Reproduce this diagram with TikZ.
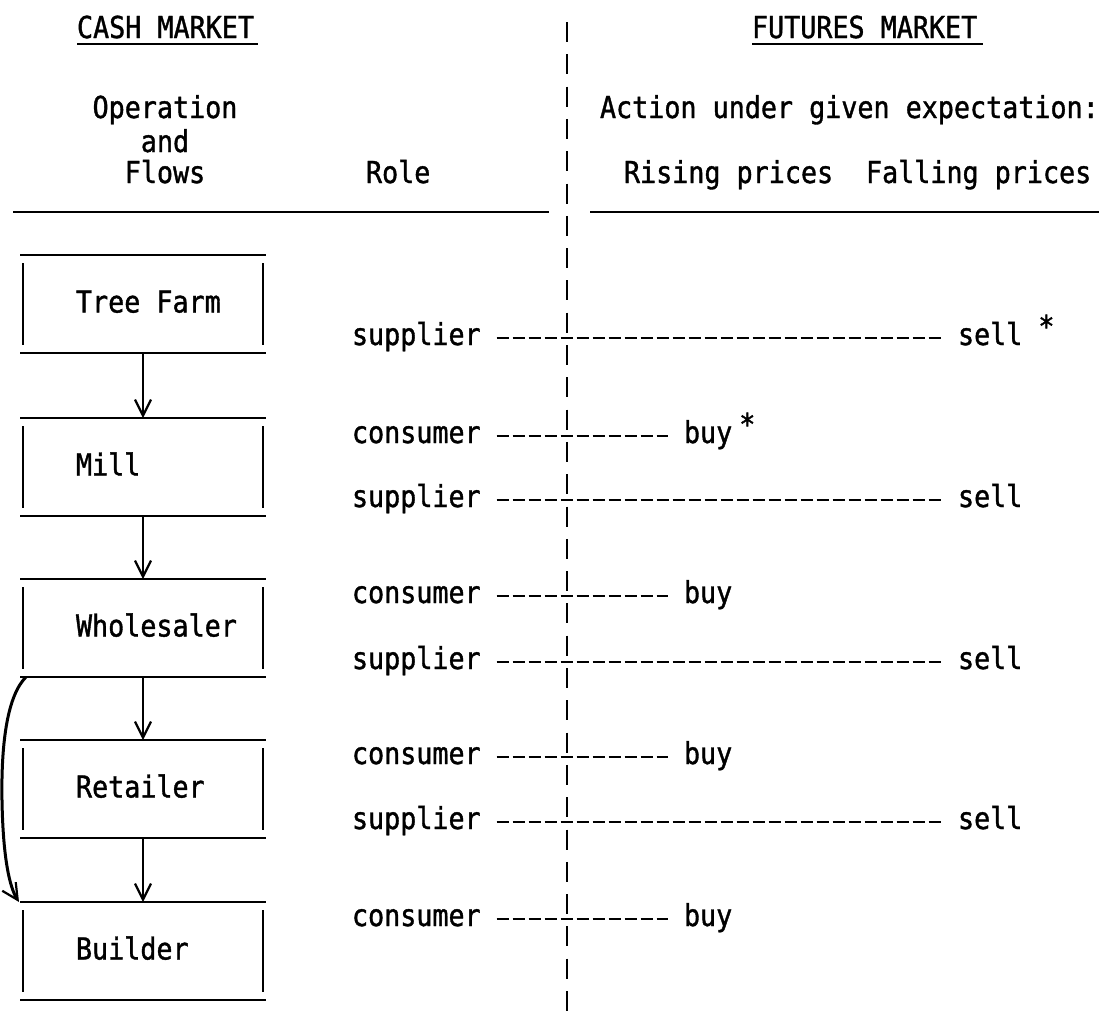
\documentclass[tikz,border=0pt]{standalone}
\usepackage{fontspec}
\newfontfamily\tw[FakeStretch=0.885,FakeBold=1.2]{DejaVu Sans Mono}
\usetikzlibrary{arrows.meta,calc}

\begin{document}
\begin{tikzpicture}[x=0.5pt,y=-0.5pt,
  every node/.style={font=\tw\fontsize{15.1pt}{16pt}\selectfont, inner sep=0pt, outer sep=0pt},
  txt/.style={anchor=base west, text height=11pt, text depth=4pt},
  rule/.style={line width=1pt},
  box/.style={minimum width=123pt, minimum height=49pt},
  flow/.style={line width=1pt, -{Straight Barb[length=8pt,width=8pt,line width=1.1pt]}},
  dashline/.style={line width=1.4pt, dash pattern=on 6pt off 2pt, shorten <=8pt, shorten >=8pt},
  divider/.style={line width=1.4pt, dash pattern=on 10pt off 6.15pt}
]
\useasboundingbox (0,0) rectangle (1099,1029);

% column headings
\node[anchor=base west] (cash) at (77,38) {CASH MARKET};
\draw[rule] (77,44) -- (258,44);
\node[anchor=base west] (fut) at (752,38) {FUTURES MARKET};
\draw[rule] (752,44) -- (983,44);

\node[anchor=base] (op1) at (165,118) {Operation};
\node[anchor=base] (op2) at (165,152) {and};
\node[anchor=base] (op3) at (165,183) {Flows};
\node[anchor=base west] (role) at (366,183) {Role};
\node[anchor=base west] (act) at (600,118) {Action under given expectation:};
\node[anchor=base west] (rise) at (624,183) {Rising prices};
\node[anchor=base west] (fall) at (866,183) {Falling prices};

\draw[rule] (13,212) -- (549,212);
\draw[rule] (590,212) -- (1099,212);

% cash / futures divider
\coordinate (dtop) at (567,22);
\coordinate (dbot) at (567,1012);
\draw[divider] (dtop) -- (dbot);

% operations in the cash market
\node[box] (tf)   at (143,304) {};
\node[box] (mill) at (143,467) {};
\node[box] (ws)   at (143,628) {};
\node[box] (ret)  at (143,789) {};
\node[box] (bld)  at (143,951) {};

\foreach \b in {tf,mill,ws,ret,bld} {
  \draw[rule] (\b.north west) -- (\b.north east);
  \draw[rule] (\b.south west) -- (\b.south east);
  \draw[rule] ([shift={(3,8)}]\b.north west) -- ([shift={(3,-8)}]\b.south west);
  \draw[rule] ([shift={(-3,8)}]\b.north east) -- ([shift={(-3,-8)}]\b.south east);
}

\node[anchor=base west] (ltf)   at (76,312.5) {Tree Farm};
\node[anchor=base west] (lmill) at (76,475.5) {Mill};
\node[anchor=base west] (lws)   at (76,636.5) {Wholesaler};
\node[anchor=base west] (lret)  at (76,797.5) {Retailer};
\node[anchor=base west] (lbld)  at (76,959.5) {Builder};

% flows
\draw[flow] (tf.south) -- (mill.north);
\draw[flow] (mill.south) -- (ws.north);
\draw[flow] (ws.south) -- (ret.north);
\draw[flow] (ret.south) -- (bld.north);
\draw[flow, line width=1.5pt] ([xshift=3pt]ws.south west)
  .. controls (8,695) and (1,740) .. (2,800)
  .. controls (3,860) and (10,888) .. ([xshift=-0.5pt]bld.north west);

% roles and hedging actions
\foreach \n/\y/\role/\act/\ax in {
  1/338/supplier/sell/958,
  2/436/consumer/buy/684,
  3/500/supplier/sell/958,
  4/596/consumer/buy/684,
  5/662/supplier/sell/958,
  6/757/consumer/buy/684,
  7/822/supplier/sell/958,
  8/919/consumer/buy/684} {
  \node[txt] (r\n) at (352,\y+7) {\role};
  \node[txt] (a\n) at (\ax,\y+7) {\act};
  \draw[dashline] (r\n.east) -- (a\n.west);
}

\node[anchor=base west] (st1) at ([xshift=8pt,yshift=4pt]a1.base east) {*};
\node[anchor=base west] (st2) at ([xshift=3.5pt,yshift=4pt]a2.base east) {*};
\end{tikzpicture}
\end{document}
